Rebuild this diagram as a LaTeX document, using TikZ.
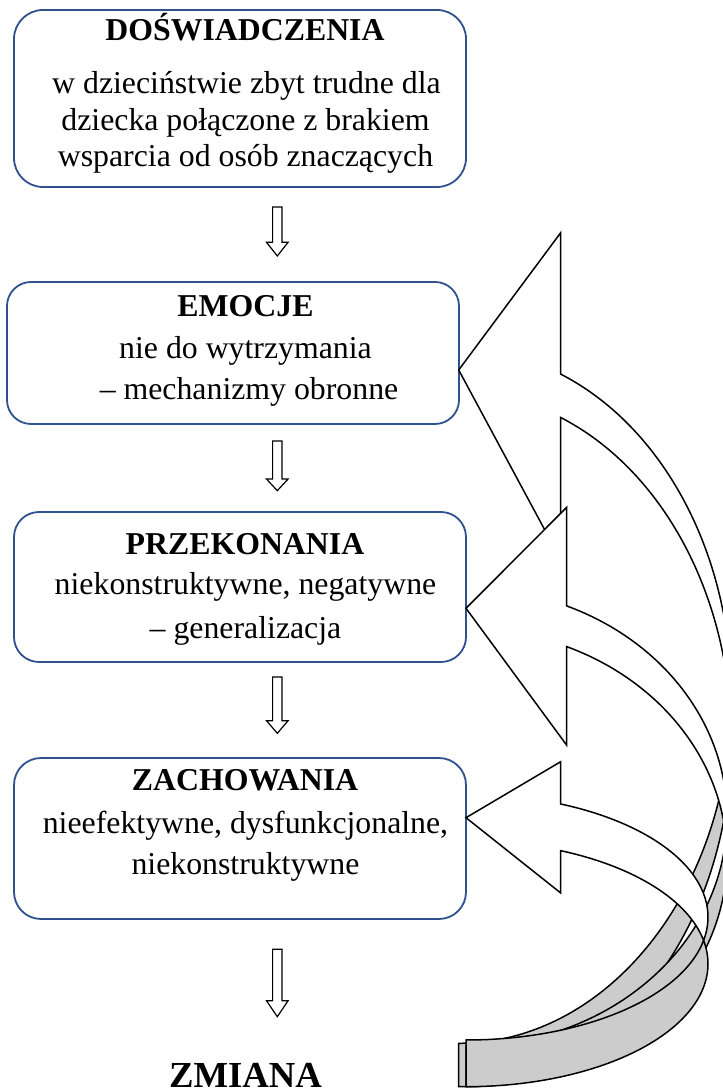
\documentclass[tikz,border=0pt]{standalone}
\usepackage{fontspec}
\setmainfont{Liberation Serif}
\usetikzlibrary{calc}
\definecolor{boxblue}{RGB}{47,82,143}
\definecolor{backgray}{RGB}{204,204,204}
\newcommand\bodyfont{\fontsize{31.8pt}{38pt}\selectfont}
\newcommand\bigfont{\fontsize{36.7pt}{44pt}\selectfont\bfseries}
% #1 start coordinate, #2 tip coordinate, #3 head length
\newcommand\mydownarrow[3]{%
  \draw[downarr] ($(#1)+(-4.7,0)$) -- ($(#1)+(4.7,0)$) -- ($(#2)+(4.7,#3)$)
    -- ($(#2)+(10.8,#3)$) -- (#2) -- ($(#2)+(-10.8,#3)$) -- ($(#2)+(-4.7,#3)$) -- cycle;}
\begin{document}
\begin{tikzpicture}[x=1pt,y=1pt,
  box/.style={draw=boxblue, line width=1.8pt, fill=white, inner sep=0pt, minimum width=452pt},
  txt/.style={inner sep=0pt, anchor=base, font=\bodyfont},
  ttl/.style={inner sep=0pt, anchor=base, font=\bodyfont\bfseries},
  downarr/.style={draw=black, line width=1.2pt, fill=white, line join=miter},
  crvfront/.style={draw=black, line width=1.5pt, fill=white, line join=miter},
  crvback/.style={draw=black, line width=1.5pt, fill=backgray, line join=miter}]
\useasboundingbox (0,0) rectangle (723,1090);
\clip (0,0) rectangle (723,1090);

% boxes
\node[box, minimum height=177pt, rounded corners=29pt] (b1) at (240,991.5) {};
\node[box, minimum height=142pt, rounded corners=24pt] (b2) at (233,737) {};
\node[box, minimum height=150pt, rounded corners=25pt] (b3) at (240,503) {};
\node[box, minimum height=161pt, rounded corners=27pt] (b4) at (240,251.5) {};

% texts
\node[ttl] (t1) at (245,1049) {DOŚWIADCZENIA};
\node[txt] (t1a) at (246.5,996) {w dzieciństwie zbyt trudne dla};
\node[txt] (t1b) at (245.5,959.3) {dziecka połączone z brakiem};
\node[txt] (t1c) at (245.5,923.3) {wsparcia od osób znaczących};
\node[ttl] (t2) at (245.5,773.3) {EMOCJE};
\node[txt] (t2a) at (245.5,731) {nie do wytrzymania};
\node[txt] (t2b) at (249,690.7) {– mechanizmy obronne};
\node[ttl] (t3) at (245,535) {PRZEKONANIA};
\node[txt] (t3a) at (245.5,495) {niekonstruktywne, negatywne};
\node[txt] (t3b) at (245.5,451.7) {– generalizacja};
\node[ttl] (t4) at (245,299) {ZACHOWANIA};
\node[txt] (t4a) at (245.5,256) {nieefektywne, dysfunkcjonalne,};
\node[txt] (t4b) at (245.5,215) {niekonstruktywne};
\node[inner sep=0pt, anchor=base, font=\bigfont] (z) at (245.5,2.5) {ZMIANA};

% small down arrows
\coordinate (d1s) at (277.3,883);   \coordinate (d1t) at (277.3,834);
\coordinate (d2s) at (277.3,649);   \coordinate (d2t) at (277.3,599.3);
\coordinate (d3s) at (277.3,413);   \coordinate (d3t) at (277.3,356.7);
\coordinate (d4s) at (277.3,140.7); \coordinate (d4t) at (277.3,73.3);
\mydownarrow{d1s}{d1t}{13.7}
\mydownarrow{d2s}{d2t}{11.7}
\mydownarrow{d3s}{d3t}{12.6}
\mydownarrow{d4s}{d4t}{16}

% curved arrow A (to EMOCJE)
\coordinate (AU) at (458.7,393.9);
\coordinate (AL) at (458.7,350.5);
\coordinate (Atip) at (458.7,720);
\draw[crvback] ($(AL)+(3.583:272.6 and 347.2)$)
  arc[start angle=3.583, end angle=-90, x radius=272.6pt, y radius=347.2pt]
  -- ($(AU)+(0,-347.2)$)
  arc[start angle=-90, end angle=-3.583, x radius=272.6pt, y radius=347.2pt] -- cycle;
\draw[crvfront] (Atip) -- (560.7,857.3) -- ($(AU)+(68.03:272.6 and 347.2)$)
  arc[start angle=68.03, end angle=-3.583, x radius=272.6pt, y radius=347.2pt]
  arc[start angle=3.583, end angle=68.03, x radius=272.6pt, y radius=347.2pt]
  -- (560.7,530.5) -- cycle;

% curved arrow B (to PRZEKONANIA)
\coordinate (BU) at (466,272.9);
\coordinate (BL) at (466,232.2);
\coordinate (Btip) at (466,481.7);
\draw[crvback] ($(BL)+(5.10:261 and 228.9)$)
  arc[start angle=5.10, end angle=-90, x radius=261pt, y radius=228.9pt]
  -- ($(BU)+(0,-228.9)$)
  arc[start angle=-90, end angle=-5.10, x radius=261pt, y radius=228.9pt] -- cycle;
\draw[crvfront] (Btip) -- (566.7,582.7) -- ($(BU)+(67.30:261 and 228.9)$)
  arc[start angle=67.30, end angle=-5.10, x radius=261pt, y radius=228.9pt]
  arc[start angle=5.10, end angle=67.30, x radius=261pt, y radius=228.9pt]
  -- (566.7,344.8) -- cycle;

% curved arrow C (to ZACHOWANIA)
\coordinate (CU) at (466,172.9);
\coordinate (CL) at (466,126.2);
\coordinate (Ctip) at (466,272.3);
\draw[crvback] ($(CL)+(10.95:242 and 122.9)$)
  arc[start angle=10.95, end angle=-90, x radius=242pt, y radius=122.9pt]
  -- ($(CU)+(0,-122.9)$)
  arc[start angle=-90, end angle=-10.95, x radius=242pt, y radius=122.9pt] -- cycle;
\draw[crvfront] (Ctip) -- (560.7,328.3) -- ($(CU)+(66.96:242 and 122.9)$)
  arc[start angle=66.96, end angle=-10.95, x radius=242pt, y radius=122.9pt]
  arc[start angle=10.95, end angle=66.96, x radius=242pt, y radius=122.9pt]
  -- (560.7,197.0) -- cycle;
\end{tikzpicture}
\end{document}
